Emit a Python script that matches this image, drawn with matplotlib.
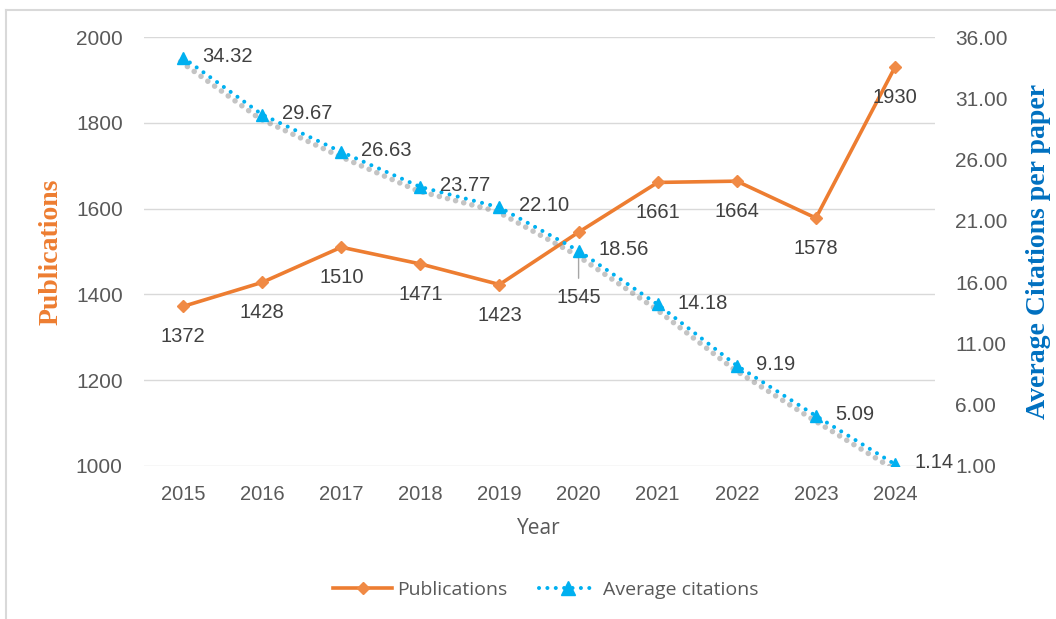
import matplotlib
matplotlib.use("Agg")
import matplotlib.pyplot as plt
from matplotlib.lines import Line2D
from matplotlib.transforms import offset_copy

years = [2015, 2016, 2017, 2018, 2019, 2020, 2021, 2022, 2023, 2024]
publications = [1372, 1428, 1510, 1471, 1423, 1545, 1661, 1664, 1578, 1930]
avg_citations = [34.32, 29.67, 26.63, 23.77, 22.10, 18.56, 14.18, 9.19, 5.09, 1.14]

pub_ticks = [1000, 1200, 1400, 1600, 1800, 2000]
cit_ticks = [1, 6, 11, 16, 21, 26, 31, 36]

ORANGE = "#ED7D31"
BLUE = "#00B0F0"
TICK_GRAY = "#595959"
LABEL_GRAY = "#404040"
SANS = "Liberation Sans"
UI_FONT = "Open Sans"

fig = plt.figure(figsize=(10.56, 6.19), dpi=100)
ax = fig.add_axes([0.1359, 0.2472, 0.7491, 0.6930])
ax2 = ax.twinx()

x = list(range(len(years)))

# publications: solid orange with diamonds
ax.plot(x, publications, color=ORANGE, lw=2.6, marker="D", ms=6.5,
        mfc="#F08A45", mec="#F08A45", zorder=3)

# soft grey dotted shadow under the citation line
shadow_tr = offset_copy(ax2.transData, fig=fig, x=-2.5, y=-4, units="dots")
ax2.plot(x, avg_citations, color="#8a8a8a", alpha=0.5, lw=4.0,
         linestyle=(0, (0.01, 1.5)), dash_capstyle="round",
         transform=shadow_tr, zorder=2)

# average citations: dotted blue with triangles
ax2.plot(x, avg_citations, color=BLUE, lw=2.9, linestyle=(0, (0.01, 2.07)),
         dash_capstyle="round", marker="^", ms=8.5, mfc=BLUE, mec=BLUE, zorder=3)

ax.set_xlim(-0.5, len(years) - 0.5)
ax.set_ylim(1000, 2000)
ax2.set_ylim(1, 36)
ax.set_yticks(pub_ticks)
ax2.set_yticks(cit_ticks)
ax.set_xticks(x)
ax.set_xticklabels([str(y) for y in years])
ax2.set_yticklabels([f"{v:.2f}" for v in cit_ticks])

ax.grid(axis="y", color="#D9D9D9", lw=1.0)
ax.set_axisbelow(True)
for a in (ax, ax2):
    for s in a.spines.values():
        s.set_visible(False)

ax.tick_params(axis="x", length=0, pad=14, labelsize=14.5, labelcolor=TICK_GRAY)
ax.tick_params(axis="y", length=0, pad=15, labelsize=15, labelcolor=TICK_GRAY)
ax2.tick_params(axis="y", length=0, pad=15, labelsize=15, labelcolor=TICK_GRAY)
for lbl in ax.get_xticklabels() + ax.get_yticklabels() + ax2.get_yticklabels():
    lbl.set_fontfamily(SANS)

ax.set_xlabel("Year", fontsize=15, color=TICK_GRAY, family=UI_FONT, labelpad=10)
ax.set_ylabel("Publications", fontsize=20, color=ORANGE, family="Liberation Serif",
              fontweight="bold", labelpad=9)
ax2.set_ylabel("Average Citations per paper", fontsize=20, color="#0070C0",
               family="Liberation Serif", fontweight="bold", labelpad=13)

# value labels
for i, v in enumerate(publications):
    if years[i] == 2020:
        ax.annotate(str(v), (i, v), xytext=(0, -47), textcoords="offset points",
                    ha="center", va="center", fontsize=14.5, color=LABEL_GRAY, family=SANS,
                    arrowprops=dict(arrowstyle="-", color="#A6A6A6", lw=1,
                                    shrinkA=5, shrinkB=11), zorder=4)
    else:
        ax.annotate(str(v), (i, v), xytext=(0, -22), textcoords="offset points",
                    ha="center", va="center", fontsize=14.5, color=LABEL_GRAY,
                    family=SANS, zorder=4)

for i, v in enumerate(avg_citations):
    ax2.annotate(f"{v:.2f}", (i, v), xytext=(14, 1), textcoords="offset points",
                 ha="left", va="center", fontsize=14.5, color=LABEL_GRAY,
                 family=SANS, zorder=4)

handles = [
    Line2D([], [], color=ORANGE, lw=2.6, marker="D", ms=6.5, mfc="#F08A45", mec="#F08A45"),
    Line2D([], [], color=BLUE, lw=2.9, linestyle=(0, (0.01, 2.07)), dash_capstyle="round",
           marker="^", ms=9.5, mfc=BLUE, mec=BLUE),
]
leg = fig.legend(handles, ["Publications", "Average citations"], loc="center",
                 bbox_to_anchor=(0.517, 0.047), ncol=2, frameon=False,
                 handlelength=3.0, columnspacing=1.6, handletextpad=0.3,
                 prop={"family": UI_FONT, "size": 14})
for t in leg.get_texts():
    t.set_color(TICK_GRAY)

# light outer frame (left and top edges)
fig.add_artist(Line2D([6 / 1056, 6 / 1056], [0, 1 - 10 / 619], transform=fig.transFigure,
                      color="#D9D9D9", lw=1.5))
fig.add_artist(Line2D([6 / 1056, 1], [1 - 10 / 619, 1 - 10 / 619], transform=fig.transFigure,
                      color="#D9D9D9", lw=1.5))

fig.savefig("out.png", dpi=100, facecolor="white")
